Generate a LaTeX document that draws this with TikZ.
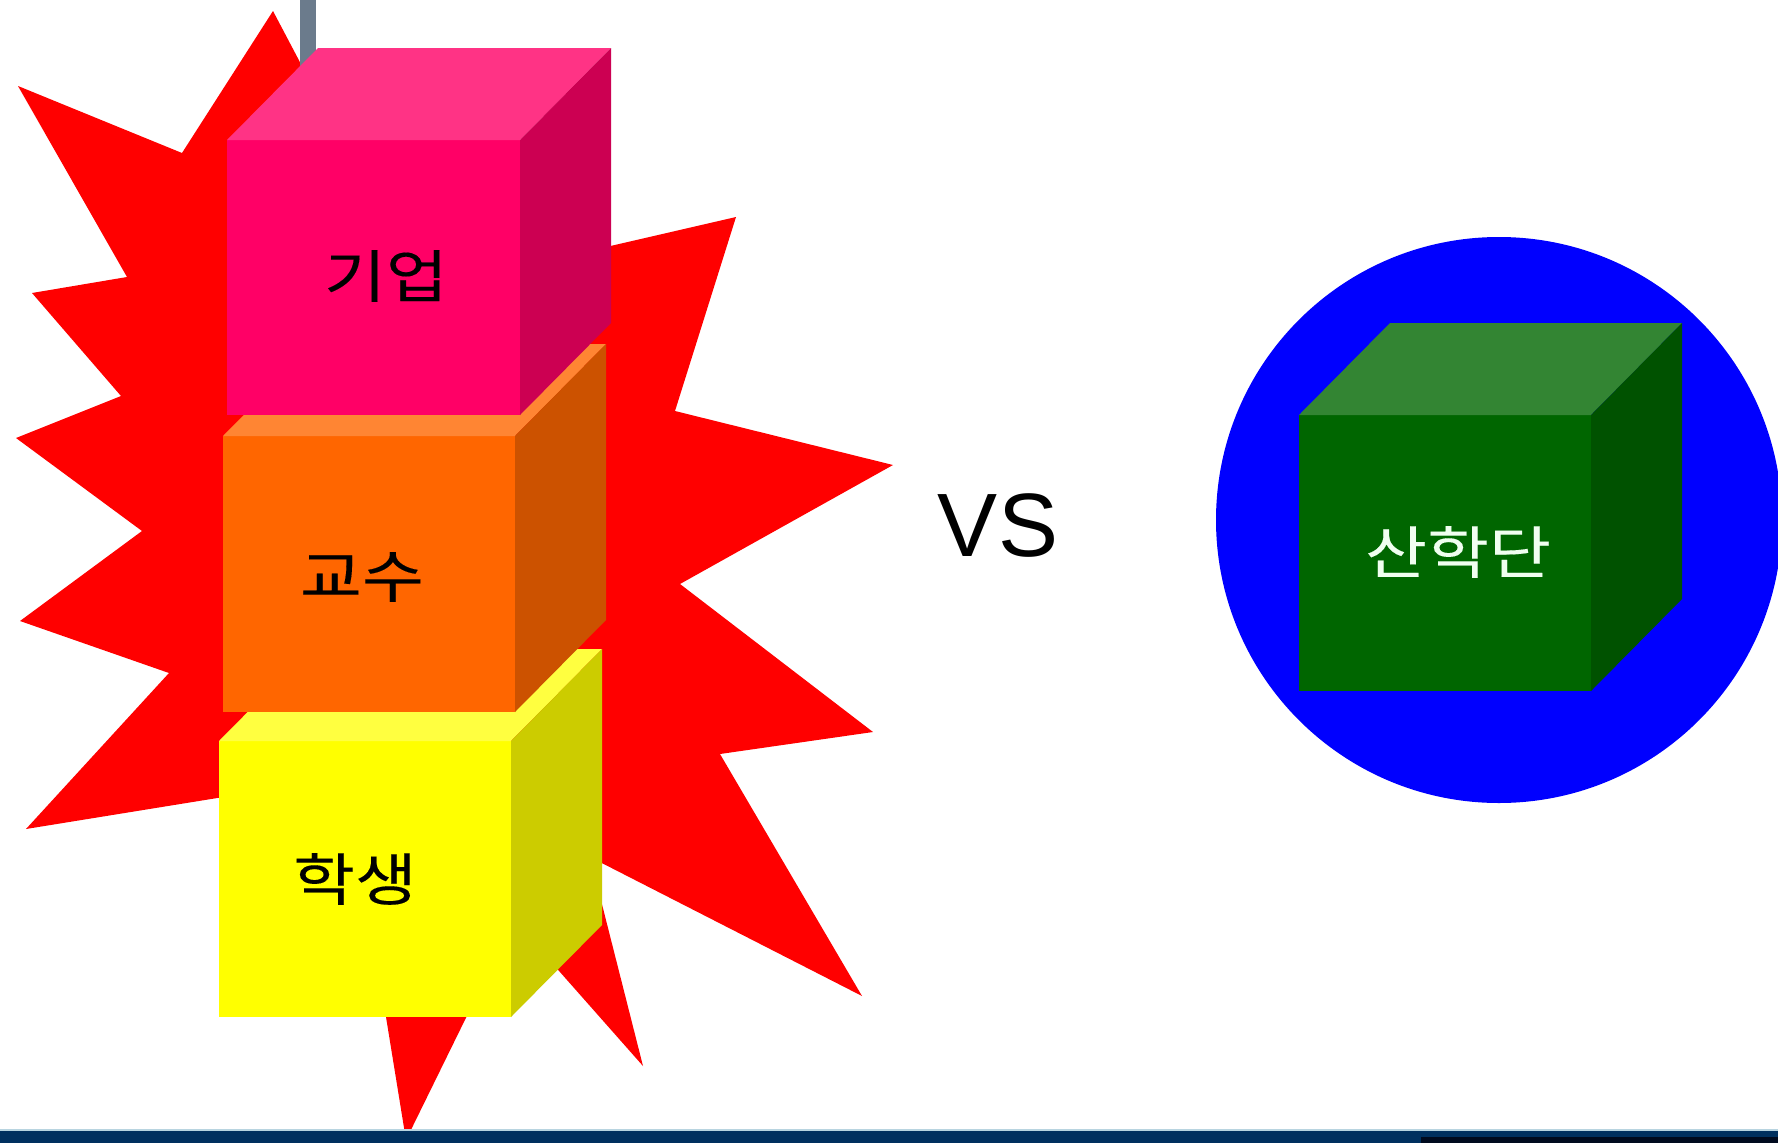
\documentclass[tikz,border=0pt]{standalone}
\usepackage{fontspec}
\setmainfont{Liberation Sans}
\newfontfamily\krfont[FakeStretch=1.18,FakeBold=0.2]{Noto Sans CJK KR}
\definecolor{starred}{HTML}{FF0000}
\definecolor{barGray}{HTML}{6B7B8C}
\definecolor{pinkF}{HTML}{FF0066}
\definecolor{pinkT}{HTML}{FF3385}
\definecolor{pinkS}{HTML}{CC0052}
\definecolor{orF}{HTML}{FF6600}
\definecolor{orT}{HTML}{FF8533}
\definecolor{orS}{HTML}{CC5200}
\definecolor{yeF}{HTML}{FFFF00}
\definecolor{yeT}{HTML}{FFFF40}
\definecolor{yeS}{HTML}{CCCC00}
\definecolor{grF}{HTML}{006600}
\definecolor{grT}{HTML}{338533}
\definecolor{grS}{HTML}{005200}
\definecolor{circBlue}{HTML}{0000FF}
\definecolor{navy}{HTML}{00305F}
\definecolor{darknavy}{HTML}{000A1E}
\definecolor{paleline}{HTML}{B8D4E0}
\definecolor{greenText}{HTML}{F0FFF0}
% cube: x, y (top-left of front face), width, height, front, top, side
\newcommand\mycube[7]{%
  \fill[#5] (#1,#2) rectangle ++(#3,#4);
  \fill[#6] (#1,#2) -- ++(91,-92) -- ++(#3,0) -- ++(-91,92) -- cycle;
  \fill[#7] (#1+#3,#2) -- ++(91,-92) -- ++(0,#4) -- ++(-91,92) -- cycle;
}
\begin{document}
\begin{tikzpicture}[x=1pt,y=-1pt,
  krlabel/.style={font=\krfont\fontsize{57}{60}\selectfont, inner sep=0pt},
  vslabel/.style={font=\fontsize{90}{96}\selectfont, inner sep=0pt}]
\useasboundingbox (0,0) rectangle (1778,1143);
\fill[white] (0,0) rectangle (1778,1143);
% starburst
\fill[starred] (273,11) -- (420,290) -- (736,217) -- (675,411) -- (893,465)
  -- (680,584) -- (873,732) -- (720,754) -- (862,996) -- (590,857)
  -- (643,1066) -- (514,920) -- (406,1140) -- (347,777) -- (26,829)
  -- (169,673) -- (20,621) -- (142,531) -- (16,438) -- (121,396)
  -- (32,293) -- (127,277) -- (18,86) -- (182,153) -- cycle;
% gray bar
\fill[barGray] (300,0) rectangle (316,80);
% cube stack
\mycube{219}{741}{292}{276}{yeF}{yeT}{yeS}
\mycube{223}{436}{292}{276}{orF}{orT}{orS}
\mycube{227}{140}{293}{275}{pinkF}{pinkT}{pinkS}
% blue circle and green cube
\fill[circBlue] (1499,520) circle[radius=283];
\mycube{1299}{415}{292}{276}{grF}{grT}{grS}
% labels
\node[krlabel] (giup) at (386,276) {기업};
\node[krlabel] (gyosu) at (362,577) {교수};
\node[krlabel] (haksaeng) at (355,879) {학생};
\node[krlabel, text=greenText] (sanhakdan) at (1458,552) {산학단};
\node[vslabel] (vs) at (998,526) {VS};
% bottom strip
\fill[paleline] (0,1129) rectangle (1778,1131);
\fill[navy] (0,1131) rectangle (1778,1143);
\fill[darknavy] (1421,1137) rectangle (1778,1143);
\end{tikzpicture}
\end{document}
